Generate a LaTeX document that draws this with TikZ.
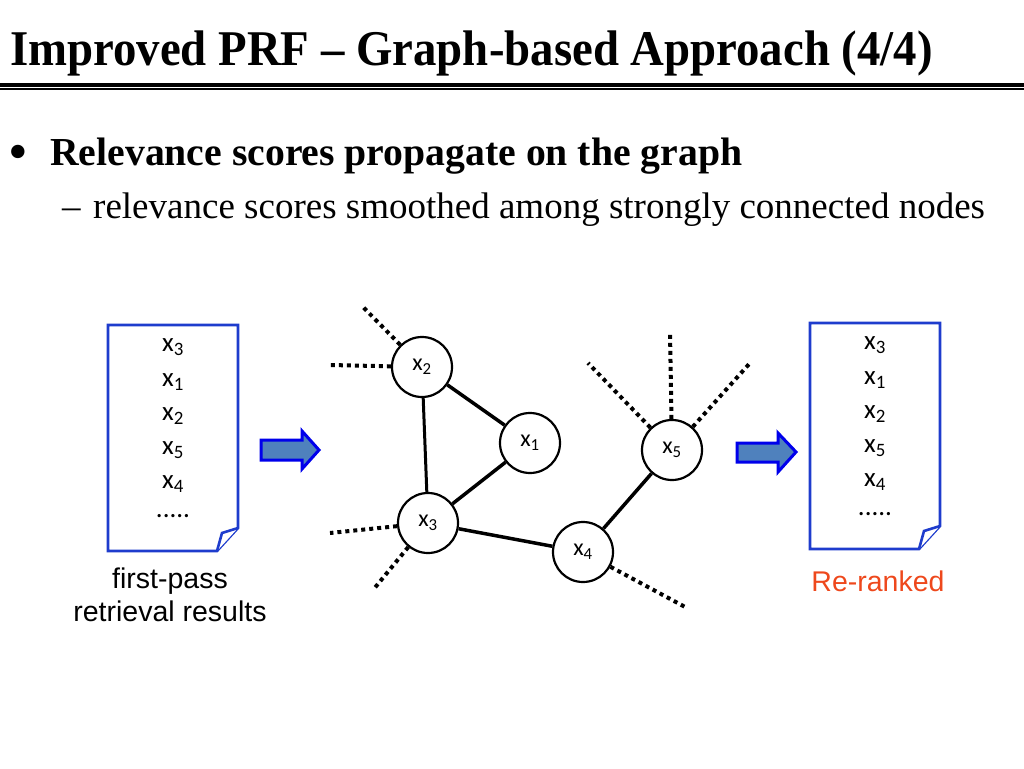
\documentclass[tikz,border=0pt]{standalone}
\usepackage{fontspec}
\setmainfont{Liberation Serif}
\newfontfamily\calib{Carlito}
\newfontfamily\arial{Liberation Sans}
\definecolor{docblue}{RGB}{30,60,205}
\definecolor{arrowfill}{RGB}{79,129,189}
\definecolor{arrowline}{RGB}{0,0,235}
\definecolor{rerank}{RGB}{238,72,28}
\tikzset{
  gnode/.style={circle,draw=black,line width=2.2pt,fill=white,minimum size=60pt,inner sep=0pt,font=\calib\fontsize{24}{24}\selectfont},
  gedge/.style={line width=3.5pt},
  dotedge/.style={line width=4pt,dash pattern=on 4pt off 4pt},
  docshape/.style={draw=docblue,line width=2.6pt,fill=white,line join=miter},
  blockarrow/.style={draw=arrowline,fill=arrowfill,line width=3pt,line join=miter},
  doctext/.style={font=\calib\fontsize{27}{27}\selectfont,inner sep=0pt},
  lbl/.style={font=\arial\fontsize{28.5}{28.5}\selectfont,inner sep=0pt,align=center}
}
\begin{document}
\begin{tikzpicture}[x=1pt,y=-1pt]
\useasboundingbox (0,0) rectangle (1024,768);
% title
\node[anchor=base west,inner sep=0pt] (title) at (10,66) {\scalebox{0.936}[1]{\fontsize{50}{50}\selectfont\bfseries Improved PRF -- Graph-based Approach (4/4)}};
\draw[line width=4pt,black] (0,84.5) -- (1024,84.5);
\draw[line width=1.2pt,black] (0,89) -- (1024,89);
% bullets
\node[anchor=center,inner sep=0pt] (bul) at (18,158) {\fontsize{56}{56}\selectfont\textbullet};
\node[anchor=base west,inner sep=0pt] (b1) at (50,165) {\fontsize{39.7}{40}\selectfont\bfseries Relevance scores propagate on the graph};
\node[anchor=base west,inner sep=0pt] (b2d) at (62,218) {\fontsize{37}{37}\selectfont --};
\node[anchor=base west,inner sep=0pt] (b2) at (93,218) {\fontsize{37}{37}\selectfont relevance scores smoothed among strongly connected nodes};
% left document
\draw[docshape] (108,325) -- (238,325) -- (238,528) -- (217,551) -- (108,551) -- cycle;
\draw[docshape] (238,528) -- (222,533) -- (217,551);
\node[doctext] (l1) at (173,347) {x\textsubscript{3}};
\node[doctext] (l2) at (173,382) {x\textsubscript{1}};
\node[doctext] (l3) at (173,416) {x\textsubscript{2}};
\node[doctext] (l4) at (173,450) {x\textsubscript{5}};
\node[doctext] (l5) at (173,484) {x\textsubscript{4}};
\node[doctext] (l6) at (173,516) {.....};
% right document
\draw[docshape] (810,323) -- (940,323) -- (940,526) -- (919,549) -- (810,549) -- cycle;
\draw[docshape] (940,526) -- (924,531) -- (919,549);
\node[doctext] (r1) at (875,345) {x\textsubscript{3}};
\node[doctext] (r2) at (875,380) {x\textsubscript{1}};
\node[doctext] (r3) at (875,414) {x\textsubscript{2}};
\node[doctext] (r4) at (875,448) {x\textsubscript{5}};
\node[doctext] (r5) at (875,482) {x\textsubscript{4}};
\node[doctext] (r6) at (875,514) {.....};
% arrows
\draw[blockarrow] (261,440) -- (302,440) -- (302,431) -- (319,450) -- (302,469) -- (302,460) -- (261,460) -- cycle;
\draw[blockarrow] (737,443) -- (778,443) -- (778,433) -- (796,452) -- (778,472) -- (778,462) -- (737,462) -- cycle;
% graph ends
\coordinate (e2a) at (363,307);
\coordinate (e2b) at (330,365);
\coordinate (e3a) at (330,533);
\coordinate (e3b) at (373,590);
\coordinate (e4a) at (687,608);
\coordinate (e5a) at (588,363);
\coordinate (e5b) at (670,332);
\coordinate (e5c) at (750,363);
% graph nodes
\node[gnode] (x2) at (422,367) {x\textsubscript{2}};
\node[gnode] (x1) at (530,443) {x\textsubscript{1}};
\node[gnode] (x3) at (428,523) {x\textsubscript{3}};
\node[gnode] (x4) at (583,552) {x\textsubscript{4}};
\node[gnode] (x5) at (672,450) {x\textsubscript{5}};
\draw[gedge] (x2) -- (x1);
\draw[gedge,line width=3pt] (x2) -- (x3);
\draw[gedge] (x1) -- (x3);
\draw[gedge] (x3) -- (x4);
\draw[gedge] (x4) -- (x5);
\draw[dotedge] (x2) -- (e2a);
\draw[dotedge] (x2) -- (e2b);
\draw[dotedge] (x3) -- (e3a);
\draw[dotedge] (x3) -- (e3b);
\draw[dotedge] (x4) -- (e4a);
\draw[dotedge] (x5) -- (e5a);
\draw[dotedge] (x5) -- (e5b);
\draw[dotedge] (x5) -- (e5c);
% labels
\node[lbl] (lab1) at (170,595) {first-pass\\[5pt]retrieval results};
\node[lbl,text=rerank] (lab2) at (878,581) {Re-ranked};
\end{tikzpicture}
\end{document}
